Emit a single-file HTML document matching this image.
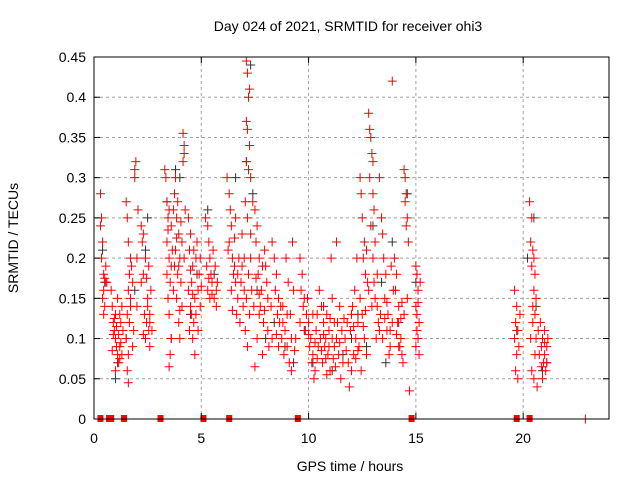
<!DOCTYPE html>
<html><head><meta charset="utf-8"><style>
body{margin:0;background:#fff;}
svg{display:block;font-family:"Liberation Sans",sans-serif;}
</style></head><body>
<svg id="chart" width="640" height="480" viewBox="0 0 640 480" xmlns="http://www.w3.org/2000/svg">
<text x="348" y="31" font-size="14" text-anchor="middle" fill="#000">Day 024 of 2021, SRMTID for receiver ohi3</text>
<text x="350" y="471" font-size="14" text-anchor="middle">GPS time / hours</text>
<text x="18" y="238" font-size="14" text-anchor="middle" transform="rotate(-90 18 238)">SRMTID / TECUs</text>
<g id="grid"></g><g id="marks"></g><g id="axes"></g>
</svg>
<script>
const xTicks=[0,5,10,15,20];
const yTicks=[0,0.05,0.1,0.15,0.2,0.25,0.3,0.35,0.4,0.45];
const yTickLabels=["0","0.05","0.1","0.15","0.2","0.25","0.3","0.35","0.4","0.45"];
const gapHours=[0.3,0.7,0.8,1.4,3.1,5.1,6.3,9.5,14.8,19.7,20.3];
const blackPts=[[0.4,0.21],[0.5,0.17],[1.0,0.05],[1.1,0.07],[1.5,0.1],[1.9,0.16],[2.4,0.21],[2.5,0.25],[3.4,0.27],[3.6,0.1],[3.8,0.31],[4.0,0.3],[4.5,0.13],[4.8,0.18],[5.3,0.26],[5.6,0.18],[6.6,0.3],[7.1,0.32],[7.3,0.44],[7.4,0.28],[7.6,0.16],[8.0,0.1],[8.4,0.12],[8.9,0.09],[9.3,0.07],[9.8,0.11],[10.2,0.07],[10.7,0.14],[11.1,0.06],[11.6,0.08],[12.0,0.1],[12.3,0.13],[12.7,0.09],[13.0,0.24],[13.4,0.17],[13.6,0.07],[13.9,0.22],[14.2,0.12],[14.6,0.28],[15.0,0.17],[19.7,0.11],[20.2,0.2],[20.5,0.25],[20.6,0.14],[20.9,0.06],[21.1,0.07]];
const redPts=[
[0.3,0.28],[0.35,0.25],[0.3,0.24],[0.4,0.22],[0.35,0.2],[0.45,0.18],[0.5,0.175],[0.55,0.17],[0.45,0.16],[0.4,0.15],[0.5,0.14],[0.45,0.13],[0.6,0.17],[0.55,0.19],
[0.8,0.16],[0.85,0.14],[0.9,0.12],[0.95,0.11],[1.0,0.1],[1.05,0.09],[1.1,0.08],[1.15,0.07],[1.2,0.13],[1.0,0.06],[1.25,0.12],[1.1,0.15],[0.9,0.105],[1.3,0.08],[1.2,0.09],[1.35,0.11],[1.0,0.13],
[1.5,0.27],[1.55,0.25],[1.6,0.22],[1.7,0.2],[1.75,0.19],[1.65,0.18],[1.8,0.17],[1.6,0.16],[1.7,0.15],[1.55,0.13],[1.65,0.12],[1.5,0.1],[1.6,0.08],[1.6,0.045],[1.55,0.06],[1.7,0.14],[1.85,0.11],[1.8,0.09],
[1.9,0.31],[1.95,0.32],[1.9,0.3],[2.0,0.2],[2.05,0.26],[2.0,0.14],
[2.2,0.24],[2.3,0.23],[2.25,0.22],[2.4,0.2],[2.3,0.18],[2.5,0.15],[2.35,0.13],[2.45,0.12],[2.55,0.11],[2.4,0.1],[2.6,0.09],[2.5,0.14],[2.65,0.16],[2.2,0.17],[2.6,0.12],[2.7,0.11],
[3.3,0.31],[3.35,0.3],[3.4,0.27],[3.5,0.26],[3.45,0.25],[3.4,0.22],[3.5,0.2],[3.6,0.19],[3.55,0.17],[3.45,0.15],[3.5,0.13],[3.6,0.1],[3.55,0.08],[3.5,0.065],[3.65,0.21],[3.4,0.18],[3.7,0.16],
[3.8,0.3],[3.75,0.28],[3.9,0.27],[3.85,0.25],[3.95,0.23],[3.8,0.21],[4.0,0.2],[3.9,0.18],[4.05,0.17],[3.85,0.15],[3.95,0.12],[4.0,0.1],[4.1,0.22],[3.75,0.19],[4.1,0.14],
[4.15,0.355],[4.2,0.34],[4.2,0.33],[4.15,0.32],[4.2,0.2],[4.25,0.26],
[4.4,0.25],[4.5,0.23],[4.45,0.21],[4.6,0.19],[4.55,0.17],[4.7,0.15],[4.5,0.14],[4.65,0.12],[4.6,0.1],[4.7,0.08],[4.8,0.22],[4.9,0.18],[4.85,0.16],[4.4,0.16],[4.75,0.2],[4.95,0.14],[4.55,0.13],[4.45,0.11],
[5.2,0.25],[5.3,0.24],[5.35,0.22],[5.4,0.2],[5.45,0.18],[5.5,0.17],[5.3,0.16],[5.6,0.15],[5.7,0.14],[5.25,0.19],[5.55,0.21],[5.75,0.17],[5.4,0.15],[5.65,0.19],
[6.2,0.3],[6.3,0.28],[6.35,0.26],[6.4,0.24],[6.3,0.22],[6.45,0.2],[6.55,0.19],[6.5,0.18],[6.6,0.17],[6.4,0.16],[6.7,0.15],[6.65,0.13],[6.8,0.12],[6.25,0.21],[6.9,0.23],[6.75,0.2],[6.6,0.25],[6.85,0.17],
[7.1,0.445],[7.15,0.43],[7.25,0.41],[7.2,0.4],[7.1,0.37],[7.15,0.36],[7.25,0.34],[7.1,0.32],[7.2,0.31],[7.3,0.3],[7.05,0.27],[7.15,0.25],[7.3,0.23],[7.0,0.2],[7.2,0.18],[7.1,0.15],[7.25,0.13],[7.05,0.11],[7.15,0.09],[7.3,0.2],[7.35,0.16],
[7.4,0.27],[7.5,0.26],[7.6,0.24],[7.55,0.22],[7.7,0.2],[7.65,0.18],[7.8,0.16],[7.75,0.14],[7.9,0.12],[7.6,0.1],[7.85,0.08],[7.5,0.065],[8.0,0.19],[8.1,0.15],[7.95,0.21],[8.1,0.11],[7.45,0.14],[7.7,0.13],
[8.3,0.22],[8.4,0.2],[8.5,0.18],[8.45,0.16],[8.6,0.15],[8.7,0.14],[8.55,0.13],[8.8,0.12],[8.9,0.11],[8.75,0.1],[9.0,0.09],[8.85,0.08],[9.1,0.07],[9.2,0.06],[9.3,0.16],[9.15,0.13],[9.4,0.1],[8.3,0.1],[8.95,0.2],[9.25,0.22],[8.6,0.09],
[9.6,0.2],[9.7,0.18],[9.65,0.16],[9.8,0.15],[9.75,0.14],[9.9,0.13],[10.0,0.12],[9.85,0.11],[10.1,0.1],[10.05,0.09],[10.2,0.08],[10.15,0.07],[10.3,0.06],[10.25,0.05],[10.4,0.13],[10.35,0.11],[9.6,0.12],[10.45,0.09],[9.95,0.15],
[10.5,0.16],[10.6,0.14],[10.7,0.12],[10.8,0.1],[10.9,0.08],[11.0,0.06],[10.65,0.07],[10.75,0.09],[10.85,0.13],[10.95,0.11],[11.1,0.15],[11.2,0.12],[11.3,0.1],[11.4,0.08],[11.5,0.05],[11.6,0.07],[11.2,0.09],[11.05,0.2],[11.3,0.22],[11.45,0.14],[11.7,0.1],[11.8,0.12],
[11.9,0.04],[12.0,0.06],[12.1,0.08],[12.2,0.1],[12.3,0.12],[12.05,0.14],[12.15,0.16],[12.25,0.2],[12.35,0.09],[11.95,0.11],
[12.4,0.3],[12.45,0.28],[12.5,0.25],[12.6,0.22],[12.55,0.2],[12.65,0.18],[12.4,0.15],[12.5,0.13],[12.6,0.1],[12.7,0.08],[12.45,0.06],[12.75,0.17],
[12.8,0.38],[12.85,0.36],[12.9,0.35],[12.95,0.33],[12.85,0.3],[13.0,0.28],[13.05,0.26],[12.9,0.24],[13.1,0.22],[13.0,0.2],[13.2,0.18],[13.1,0.15],[13.25,0.12],[13.0,0.32],[13.15,0.1],[12.95,0.14],
[13.3,0.3],[13.4,0.25],[13.45,0.23],[13.5,0.2],[13.6,0.18],[13.55,0.15],[13.7,0.13],[13.65,0.11],[13.8,0.09],[13.75,0.08],[13.9,0.42],[13.85,0.19],[13.95,0.16],[13.35,0.13],
[14.0,0.2],[14.1,0.18],[14.05,0.16],[14.2,0.14],[14.15,0.12],[14.3,0.1],[14.25,0.09],[14.35,0.08],[14.4,0.07],[14.45,0.13],
[14.45,0.31],[14.5,0.3],[14.55,0.28],[14.5,0.27],[14.6,0.25],[14.55,0.24],[14.65,0.22],[14.7,0.035],[14.6,0.15],
[15.0,0.19],[15.05,0.18],[15.1,0.16],[15.0,0.14],[15.05,0.13],[15.15,0.12],[15.1,0.1],[15.0,0.09],[15.15,0.08],[15.2,0.17],
[19.6,0.16],[19.7,0.14],[19.65,0.12],[19.75,0.11],[19.6,0.1],[19.8,0.09],[19.7,0.08],[19.65,0.06],[19.75,0.05],[19.85,0.13],
[20.3,0.27],[20.4,0.25],[20.35,0.22],[20.45,0.21],[20.5,0.2],[20.4,0.19],[20.55,0.18],[20.5,0.16],[20.6,0.15],[20.45,0.12],[20.35,0.1],[20.55,0.08],[20.4,0.06],[20.5,0.05],[20.65,0.04],[20.6,0.1],
[20.8,0.12],[20.9,0.1],[20.85,0.09],[21.0,0.08],[20.95,0.07],[21.05,0.06],[20.9,0.05],[21.1,0.09],[21.15,0.1],[21.0,0.11],[21.1,0.07],[20.75,0.08]
];
const redPtsExtra=[
[0.95,0.125],[1.05,0.115],[1.15,0.105],[1.25,0.095],[0.85,0.085],[1.2,0.075],[1.3,0.14],
[2.3,0.105],[2.45,0.175],[2.55,0.19],[2.6,0.13],
[3.45,0.235],[3.6,0.24],[3.7,0.26],[3.85,0.225],[3.95,0.19],[4.05,0.245],[4.0,0.135],
[4.5,0.185],[4.6,0.155],[4.75,0.13],[4.85,0.11],[4.65,0.21],[4.95,0.2],[5.0,0.165],
[5.35,0.175],[5.5,0.155],[5.7,0.16],
[6.45,0.135],[6.55,0.225],[6.7,0.18],[6.9,0.19],[6.95,0.14],[7.0,0.16],
[7.55,0.175],[7.7,0.155],[7.85,0.19],[7.95,0.135],[8.05,0.17],[8.15,0.09],[8.25,0.14],
[8.5,0.105],[8.65,0.12],[8.8,0.14],[9.0,0.13],[9.05,0.17],[9.2,0.1],[9.35,0.085],
[10.0,0.105],[10.2,0.13],[10.3,0.095],[10.4,0.075],[10.55,0.1],[10.6,0.085],[10.7,0.105],[10.8,0.075],[10.85,0.055],[10.95,0.09],[11.0,0.125],[11.1,0.1],[11.15,0.075],[11.25,0.065],[11.35,0.12],[11.45,0.095],[11.55,0.11],[11.65,0.125],[11.75,0.085],[11.85,0.07],
[12.0,0.13],[12.1,0.115],[12.2,0.075],[12.3,0.085],[12.55,0.115],[12.65,0.135],[12.7,0.21],[12.8,0.16],
[13.05,0.17],[13.2,0.14],[13.3,0.11],[13.45,0.1],[13.55,0.125],[13.65,0.145],[13.8,0.11],[13.9,0.12],
[14.1,0.105],[14.2,0.09],[14.3,0.125],[14.35,0.145],
[15.05,0.11],[15.1,0.145],
[20.45,0.14],[20.55,0.13],[20.7,0.11],[20.85,0.065],[21.0,0.095]
];
const NS="http://www.w3.org/2000/svg";
const L=94,R=609,T=57,B=419,XMAX=24,YMAX=0.45;
function xs(h){return L+h/XMAX*(R-L);}
function ys(v){return B-v/YMAX*(B-T);}
function mk(tag,attrs,parent){const e=document.createElementNS(NS,tag);for(const k in attrs)e.setAttribute(k,attrs[k]);parent.appendChild(e);return e;}
const grid=document.getElementById('grid'),marks=document.getElementById('marks'),axes=document.getElementById('axes');
yTicks.forEach((v,i)=>{
  if(v>0&&v<YMAX){const g=mk('line',{x1:L,x2:R,y1:ys(v),y2:ys(v),stroke:'#a0a0a0','stroke-dasharray':'3,3'},grid);
  
  }
  const t=mk('text',{x:L-8,y:ys(v)+5,'font-size':14,'text-anchor':'end'},axes);t.textContent=yTickLabels[i];
  
  
  mk('line',{x1:L,x2:L+6,y1:ys(v),y2:ys(v),stroke:'#000'},axes);
  mk('line',{x1:R,x2:R-6,y1:ys(v),y2:ys(v),stroke:'#000'},axes);
});
xTicks.forEach(h=>{
  if(h>0){const g=mk('line',{x1:xs(h),x2:xs(h),y1:T,y2:B,stroke:'#a0a0a0','stroke-dasharray':'3,3'},grid);
  
  }
  const t=mk('text',{x:xs(h),y:B+24,'font-size':14,'text-anchor':'middle'},axes);t.textContent=String(h);
  
  
  mk('line',{x1:xs(h),x2:xs(h),y1:B,y2:B-6,stroke:'#000'},axes);
  mk('line',{x1:xs(h),x2:xs(h),y1:T,y2:T+6,stroke:'#000'},axes);
});
const frame=mk('rect',{x:L,y:T,width:R-L,height:B-T,fill:'none',stroke:'#000','stroke-width':1},axes);


function cross(h,v,color,name){
  const x=xs(h),y=ys(v);
  const p=mk('path',{d:`M${x-4.5},${y}h9M${x},${y-4.5}v9`,stroke:color,'stroke-width':1,fill:'none'},marks);
  
  
}
blackPts.forEach(p=>cross(p[0],p[1],'#333','black-point'));
redPts.forEach(p=>cross(p[0],p[1],'#ff0000','red-point'));
redPtsExtra.forEach(p=>cross(p[0],p[1],'#ff0000','red-point'));
gapHours.forEach(h=>{
  const r=mk('rect',{x:xs(h)-3,y:B-4,width:6,height:7,fill:'#ff0000'},marks);
  
  
});
cross(22.9,0,'#ff0000','red-point');
</script>
</body></html>
